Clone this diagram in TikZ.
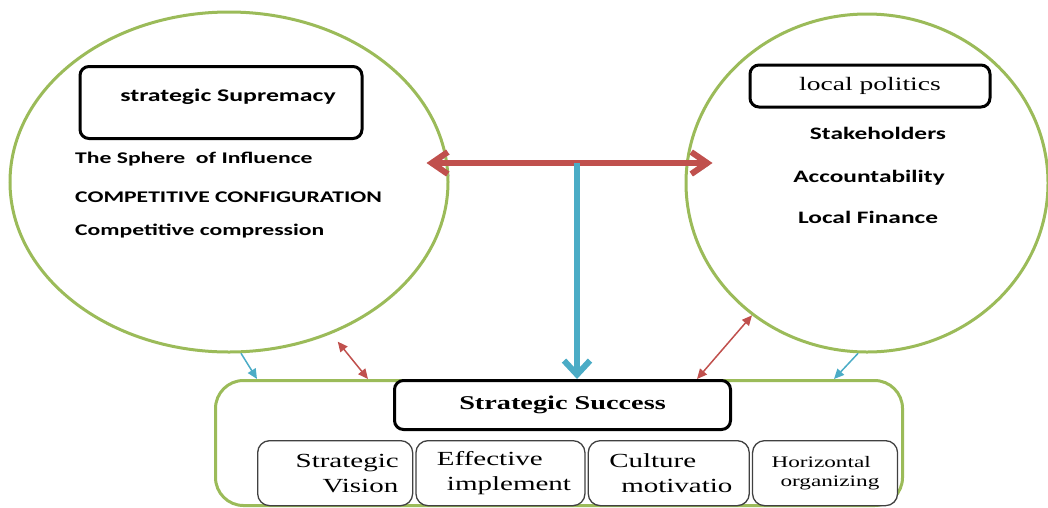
\documentclass[tikz,border=0pt]{standalone}
\usepackage{fontspec}
\setmainfont{Liberation Serif}
\newfontfamily\calwide[FakeStretch=1.45]{Carlito}
\newfontfamily\timwide[FakeStretch=1.45]{Liberation Serif}
\usetikzlibrary{positioning}
\usetikzlibrary{shapes.geometric}
\usetikzlibrary{arrows.meta}
\definecolor{ringgreen}{HTML}{9BBB59}
\definecolor{arrred}{HTML}{C0504D}
\definecolor{arrblue}{HTML}{4BACC6}

\tikzset{
  ring/.style={draw=ringgreen, line width=3pt, shape=ellipse, inner sep=0pt},
  headbox/.style={draw=black, line width=3pt, rounded corners=9pt, fill=white, inner sep=0pt},
  subbox/.style={draw=black!75, line width=1.3pt, rounded corners=12pt, fill=white,
    inner sep=0pt, minimum height=65pt, align=left,
    font=\timwide\fontsize{20}{25}\selectfont},
  lefttext/.style={anchor=base west, inner sep=0pt, font=\calwide\bfseries\fontsize{16.3}{19}\selectfont},
  righttext/.style={anchor=base, inner sep=0pt, font=\calwide\bfseries\fontsize{17.5}{20}\selectfont},
  bigred/.style={draw=arrred, line width=6pt,
    {Straight Barb[length=16pt,width=22pt]}-{Straight Barb[length=16pt,width=22pt]},
    preaction={draw=black!30, transform canvas={xshift=2pt,yshift=-2pt}}},
  bigblue/.style={draw=arrblue, line width=6pt, -{Straight Barb[length=14pt,width=26pt]}},
  smallred/.style={draw=arrred, line width=1.5pt, {Triangle[length=10pt,width=9pt]}-{Triangle[length=10pt,width=9pt]}},
  smallblue/.style={draw=arrblue, line width=1.5pt, -{Triangle[length=10pt,width=9pt]}}
}

\begin{document}
\begin{tikzpicture}[x=1pt,y=1pt]
  \useasboundingbox (0,0) rectangle (1048,-507);

  % the two circles
  \node[ring, minimum width=438pt, minimum height=340pt] (lc) at (229,-182) {};
  \node[ring, minimum width=362pt, minimum height=338pt] (rc) at (867,-183) {};

  % left circle
  \node[headbox, minimum width=282pt, text height=35pt, text depth=37pt, anchor=north,
    font=\calwide\bfseries\fontsize{17.8}{20}\selectfont] (sup) at (221,-65) {\hspace*{14pt}strategic Supremacy};
  \node[lefttext] (sph) at (75,-163) {The Sphere\ \ of Influence};
  \node[lefttext] (cfg) at (75,-202) {COMPETITIVE CONFIGURATION};
  \node[lefttext] (cmp) at (75,-235) {Competitive compression};

  % right circle
  \node[headbox, minimum width=240pt, minimum height=42pt,
    font=\timwide\fontsize{19}{22}\selectfont] (pol) at (870,-86) {local politics};
  \node[righttext] (stk) at (878,-139) {Stakeholders};
  \node[righttext] (acc) at (869,-182) {Accountability};
  \node[righttext] (fin) at (868,-223) {Local Finance};

  % bottom block
  \node[draw=ringgreen, line width=3pt, rounded corners=28pt, minimum width=687pt,
    minimum height=125pt, anchor=north west] (main) at (214,-379) {};
  \node[headbox, minimum width=336pt, minimum height=49pt, anchor=north west,
    font=\timwide\bfseries\fontsize{19.5}{22}\selectfont] (succ) at (393,-379) {Strategic Success};

  \node[subbox, text width=155pt, anchor=north west] (sv) at (257,-440)
    {\hspace*{38pt}Strategic\\\hspace*{65pt}Vision};
  \node[subbox, text width=169pt, right=2pt of sv] (ei)
    {\hspace*{21pt}Effective\\\hspace*{31pt}implement};
  \node[subbox, text width=161pt, right=2pt of ei] (cm)
    {\hspace*{21pt}Culture\\\hspace*{33pt}motivatio};
  \node[subbox, text width=145pt, right=2pt of cm, font=\timwide\fontsize{16}{19}\selectfont] (ho)
    {\hspace*{19pt}Horizontal\\\hspace*{28pt}organizing};

  % arrows
  \coordinate (hub) at (577,-163);
  \draw[bigred, shorten <=-23pt, shorten >=-28pt] ([yshift=19pt]lc.east) -- ([yshift=20pt]rc.west);
  \draw[bigblue] (hub) -- (hub |- succ.north);

  \draw[smallblue] (lc.-86) -- (257,0 |- main.north);
  \draw[smallred, shorten <=10pt] (lc.-56) -- (368,0 |- main.north);
  \draw[smallred] (rc.-131) -- (697,0 |- main.north);
  \draw[smallblue] (rc.-93) -- (834,0 |- main.north);
\end{tikzpicture}
\end{document}
